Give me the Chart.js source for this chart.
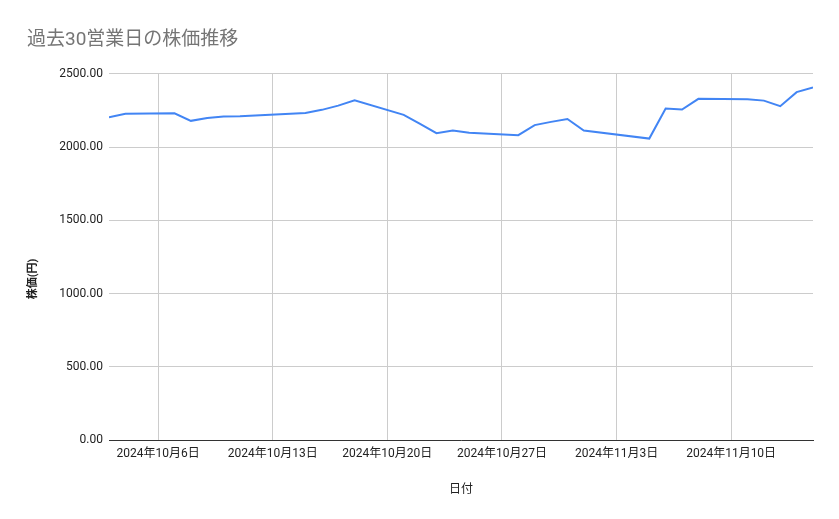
<!DOCTYPE html>
<html>
<head>
<meta charset="utf-8">
<script src="https://cdn.jsdelivr.net/npm/chart.js@4"></script>
<style>
  html, body { margin: 0; padding: 0; background: #fff; }
  #wrap { width: 839px; height: 519px; }
</style>
</head>
<body>
<div id="wrap"><canvas id="chart"></canvas></div>
<script>
// 株価データ (過去30営業日)
const dates = [
  '2024-10-03', '2024-10-04', '2024-10-07', '2024-10-08', '2024-10-09', '2024-10-10', '2024-10-11',
  '2024-10-15', '2024-10-16', '2024-10-17', '2024-10-18', '2024-10-21', '2024-10-22', '2024-10-23',
  '2024-10-24', '2024-10-25', '2024-10-28', '2024-10-29', '2024-10-30', '2024-10-31', '2024-11-01',
  '2024-11-05', '2024-11-06', '2024-11-07', '2024-11-08', '2024-11-11', '2024-11-12', '2024-11-13',
  '2024-11-14', '2024-11-15'
];
const prices = [
  2204, 2227, 2231, 2179, 2199, 2208, 2210,
  2232, 2254, 2283, 2320, 2220, 2158, 2095,
  2113, 2097, 2081, 2150, 2172, 2192, 2113,
  2058, 2263, 2256, 2329, 2327, 2317, 2279,
  2375, 2406
];
const tickDates = ['2024-10-06', '2024-10-13', '2024-10-20', '2024-10-27', '2024-11-03', '2024-11-10'];
const yTicks = [0, 500, 1000, 1500, 2000, 2500];
const xRange = ['2024-10-03', '2024-11-15'];

// 10/6 を 0 とした日数
const base = Date.UTC(2024, 9, 6);
function dayNum(s) {
  const p = s.split('-').map(Number);
  return Math.round((Date.UTC(p[0], p[1] - 1, p[2]) - base) / 86400000);
}
function dayLabel(v) {
  const d = new Date(base + v * 86400000);
  return d.getUTCFullYear() + '年' + (d.getUTCMonth() + 1) + '月' + d.getUTCDate() + '日';
}

const points = dates.map((d, i) => ({ x: dayNum(d), y: prices[i] }));
const font = "Roboto, 'Noto Sans CJK JP', sans-serif";

new Chart(document.getElementById('chart'), {
  type: 'line',
  data: {
    datasets: [{
      label: '株価',
      data: points,
      borderColor: '#4285f4',
      borderWidth: 2,
      pointRadius: 0,
      tension: 0,
      fill: false
    }]
  },
  options: {
    responsive: true,
    maintainAspectRatio: false,
    animation: false,
    layout: { padding: { left: 27, right: 26, top: 24, bottom: 22 } },
    plugins: {
      legend: { display: false },
      tooltip: { enabled: false },
      title: {
        display: true,
        text: '過去30営業日の株価推移',
        align: 'start',
        color: '#757575',
        font: { family: font, size: 19, weight: 'normal' },
        padding: { top: 5, bottom: 22 }
      }
    },
    scales: {
      x: {
        type: 'linear',
        min: dayNum(xRange[0]),
        max: dayNum(xRange[1]),
        afterBuildTicks: scale => { scale.ticks = tickDates.map(d => ({ value: dayNum(d) })); },
        grid: { color: '#cccccc', drawTicks: false },
        border: { display: true, color: '#333333', width: 1 },
        ticks: {
          padding: 7,
          maxRotation: 0,
          autoSkip: false,
          color: '#222222',
          font: { family: font, size: 12 },
          callback: v => dayLabel(v)
        },
        title: {
          display: true,
          text: '日付',
          color: '#222222',
          font: { family: font, size: 12 },
          padding: { top: 14, bottom: 0 }
        }
      },
      y: {
        min: 0,
        max: 2500,
        afterBuildTicks: scale => { scale.ticks = yTicks.map(v => ({ value: v })); },
        afterFit: scale => { scale.width = 82; },
        grid: { color: '#cccccc', drawTicks: false },
        border: { display: false },
        ticks: {
          padding: 6,
          color: '#222222',
          font: { family: font, size: 12 },
          callback: v => v.toFixed(2)
        },
        title: {
          display: true,
          text: '株価(円)　　　　',
          color: '#222222',
          font: { family: font, size: 11, weight: 'bold' },
          padding: 0
        }
      }
    }
  }
});
</script>
</body>
</html>
